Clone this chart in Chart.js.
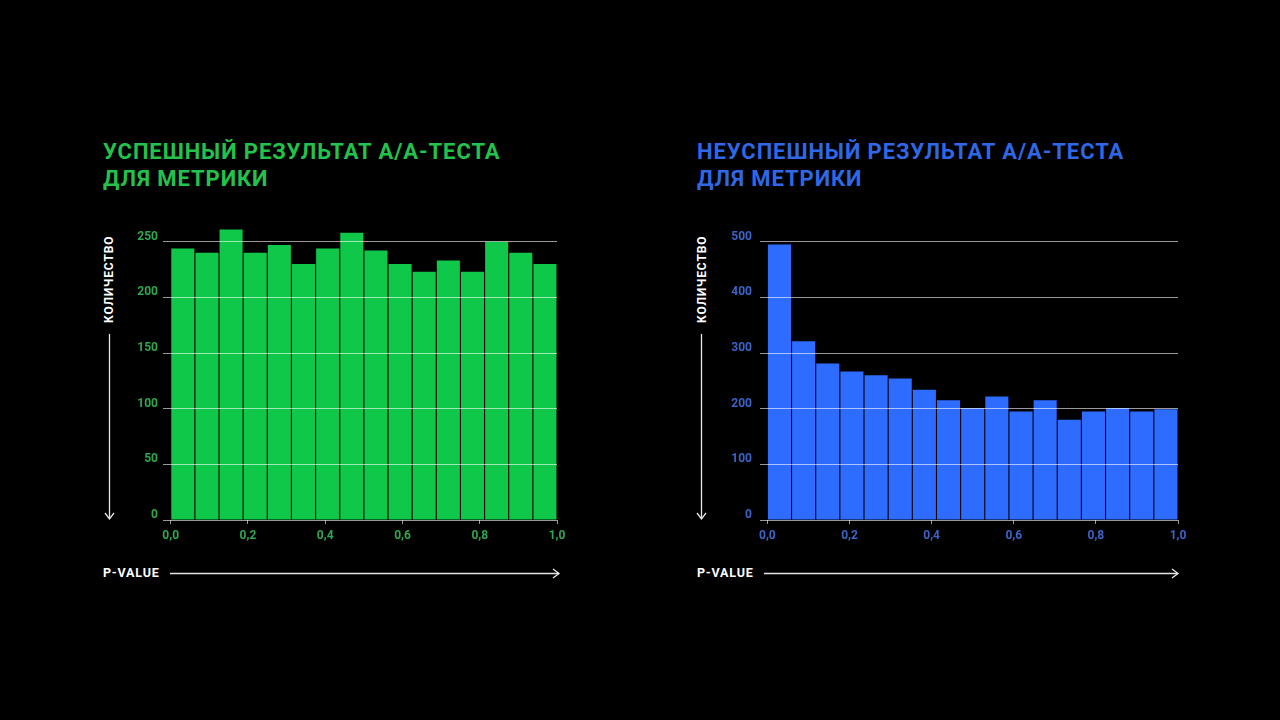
<!DOCTYPE html>
<html>
<head>
<meta charset="utf-8">
<script src="https://cdn.jsdelivr.net/npm/chart.js@4.4.1/dist/chart.umd.min.js"></script>
<title>A/A-тест</title>
<style>
  html, body { margin: 0; padding: 0; background: #000; }
  body { width: 1280px; height: 720px; position: relative; overflow: hidden; font-family: Roboto, "Noto Sans", sans-serif; }
  .title { position: absolute; top: 138px; font-size: 22px; font-weight: 700; line-height: 27px; letter-spacing: 0.92px; margin: 0; }
  .green { color: #22c24b; }
  .blue { color: #2f68e6; }
  .box { position: absolute; top: 205px; height: 350px; }
  .ylab { position: absolute; color: #fff; font-size: 12px; font-weight: 700; letter-spacing: 0.9px;
          transform: rotate(-90deg); transform-origin: left top; white-space: nowrap; }
  .xlab { position: absolute; top: 565px; color: #fff; font-size: 12.5px; font-weight: 700; letter-spacing: 0.8px; }
  svg { position: absolute; left: 0; top: 0; }
</style>
</head>
<body>
  <h2 class="title green" style="left:103px">УСПЕШНЫЙ РЕЗУЛЬТАТ А/А-ТЕСТА<br>ДЛЯ МЕТРИКИ</h2>
  <h2 class="title blue" style="left:697px">НЕУСПЕШНЫЙ РЕЗУЛЬТАТ А/А-ТЕСТА<br>ДЛЯ МЕТРИКИ</h2>

  <div class="ylab" style="left:102px; top:323px">КОЛИЧЕСТВО</div>
  <div class="ylab" style="left:695px; top:323px">КОЛИЧЕСТВО</div>
  <div class="xlab" style="left:103px">P-VALUE</div>
  <div class="xlab" style="left:697px">P-VALUE</div>

  <svg width="1280" height="720">
    <g stroke="#e6e6e6" stroke-width="1.3" fill="none">
      <line x1="109.5" y1="334" x2="109.5" y2="519"/>
      <polyline points="105,513 109.5,519 114,513"/>
      <line x1="701.5" y1="334" x2="701.5" y2="519"/>
      <polyline points="697,513 701.5,519 706,513"/>
      <line x1="170" y1="573.5" x2="559" y2="573.5"/>
      <polyline points="553,569 559,573.5 553,578"/>
      <line x1="764" y1="573.5" x2="1178" y2="573.5"/>
      <polyline points="1172,569 1178,573.5 1172,578"/>
    </g>
  </svg>

  <div class="box" style="left:120px; width:460px"><canvas id="okChart"></canvas></div>
  <div class="box" style="left:717px; width:484px"><canvas id="badChart"></canvas></div>

<script>
  // p-value histograms, counts per bin
  var okCounts = [244, 240, 261, 240, 247, 230, 244, 258, 242, 230, 223, 233, 223, 250, 240, 230];
  var badCounts = [495, 321, 281, 267, 260, 254, 234, 215, 201, 222, 195, 215, 180, 195, 201, 195, 199];
  var pTicks = [0, 0.2, 0.4, 0.6, 0.8, 1.0];
  var okYTicks = [0, 50, 100, 150, 200, 250];
  var badYTicks = [0, 100, 200, 300, 400, 500];

  function bins(counts) {
    var w = 1 / counts.length;
    return counts.map(function (c, i) { return {x: (i + 0.5) * w, y: c}; });
  }

  function makeChart(id, counts, cfg) {
    return new Chart(document.getElementById(id), {
      type: 'bar',
      data: {
        datasets: [{
          data: bins(counts),
          backgroundColor: cfg.bar,
          borderWidth: 0,
          barPercentage: 0.955,
          categoryPercentage: 1
        }]
      },
      options: {
        responsive: true,
        maintainAspectRatio: false,
        animation: false,
        // top padding larger than the label overhang so both plots start at the same y
        layout: {padding: {top: 20, right: 23, left: 0, bottom: 0}},
        plugins: {legend: {display: false}, tooltip: {enabled: false}},
        scales: {
          x: {
            type: 'linear',
            offset: false,
            min: cfg.xMin,
            max: 1.0,
            afterBuildTicks: function (axis) {
              axis.ticks = pTicks.map(function (v) { return {value: v}; });
            },
            afterFit: function (axis) { axis.height = 35; },
            border: {display: false},
            grid: {display: true, offset: false, drawOnChartArea: false, drawTicks: true, tickLength: 4, color: '#9a9a9a'},
            ticks: {
              color: cfg.tick,
              padding: 5,
              maxRotation: 0,
              font: {family: 'Roboto', size: 12, weight: 'bold'},
              callback: function (v) { return v.toFixed(1).replace('.', ','); }
            }
          },
          y: {
            min: 0,
            max: cfg.yMax,
            afterBuildTicks: function (axis) {
              axis.ticks = cfg.yTicks.map(function (v) { return {value: v}; });
            },
            afterFit: function (axis) { axis.width = 43; },
            border: {display: false},
            grid: {color: 'rgba(255,255,255,0.6)', lineWidth: 1, drawTicks: false, z: 1},
            ticks: {
              color: cfg.tick,
              padding: cfg.yPad,
              labelOffset: -5,
              font: {family: 'Roboto', size: 12, weight: 'bold'}
            }
          }
        }
      }
    });
  }

  makeChart('okChart', okCounts, {bar: '#0fc748', tick: '#2fa74c', xMin: -0.02, yMax: 265, yTicks: okYTicks, yPad: 5});
  makeChart('badChart', badCounts, {bar: '#2d6cff', tick: '#3a64c8', xMin: -0.018, yMax: 530, yTicks: badYTicks, yPad: 8});
</script>
</body>
</html>
